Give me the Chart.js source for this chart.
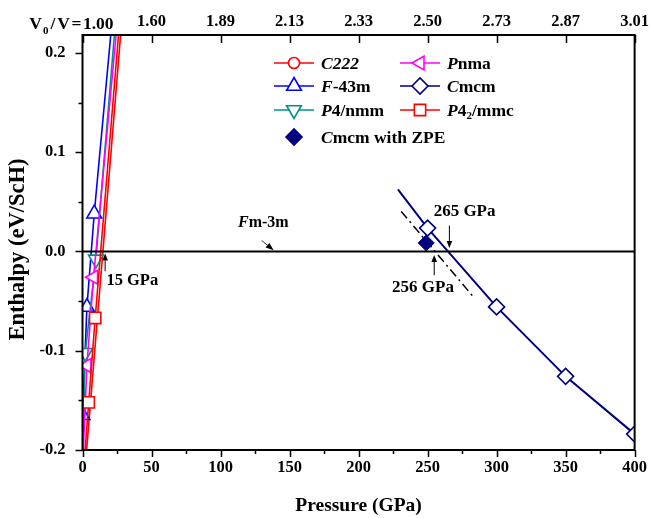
<!DOCTYPE html>
<html>
<head>
<meta charset="utf-8">
<script src="https://cdn.jsdelivr.net/npm/chart.js@4.4.0/dist/chart.umd.min.js"></script>
<style>
  html, body { margin: 0; padding: 0; background: #fff; }
  #wrap { width: 655px; height: 518px; }
</style>
</head>
<body>
<div id="wrap"><canvas id="enthalpyChart" width="655" height="518"></canvas></div>
<script>
// Enthalpy of ScH phases relative to Fm-3m (eV/ScH) vs pressure (GPa)
const c222P = [1.5, 29.5];
const c222H = [-0.225, 0.25];
const f43mP = [0, 3.2, 8.5, 22.6];
const f43mH = [-0.165, -0.056, 0.038, 0.25];
const p4nmmP = [0, 2.0, 9.7, 25];
const p4nmmH = [-0.21, -0.102, -0.008, 0.25];
const pnmaP = [0, 3.2, 8.0, 26.5];
const pnmaH = [-0.22, -0.115, -0.026, 0.25];
const p42mmcP = [0, 4.5, 9.2, 28];
const p42mmcH = [-0.235, -0.152, -0.067, 0.25];
const cmcmP = [228.5, 250, 300, 350, 400];
const cmcmH = [0.0626, 0.0235, -0.0559, -0.1258, -0.184];
const cmcmZpeP = [249];
const cmcmZpeH = [0.0086];
const zpeFitP = [230.9, 284.2];
const zpeFitH = [0.0403, -0.0474];
const fm3mP = [0, 400];
const fm3mH = [0, 0];

// V0/V shown on the top axis at every 50 GPa
const volumeRatios = ['1.00', '1.60', '1.89', '2.13', '2.33', '2.50', '2.73', '2.87', '3.01'];

const FONT = '"Liberation Serif", "Times New Roman", serif';
const BLACK = '#000';

function pts(xs, ys) {
    return xs.map((x, i) => ({ x: x, y: ys[i] }));
}

function series(label, xs, ys, color, shape, rot, extra) {
    return Object.assign({
        label: label,
        data: pts(xs, ys),
        showLine: true,
        borderColor: color,
        borderWidth: 1.6,
        pointStyle: shape,
        pointRotation: rot,
        pointRadius: 8,
        pointBorderWidth: 1.6,
        pointBorderColor: color,
        pointBackgroundColor: '#fff',
        tension: 0
    }, extra || {});
}

// draws a run of text pieces, some italic, some as subscripts
function drawRuns(ctx, x, y, runs, size) {
    let cx = x;
    runs.forEach(r => {
        const fs = r.sub ? Math.round(size * 0.6) : size;
        ctx.font = (r.it ? 'italic ' : '') + 'bold ' + fs + 'px ' + FONT;
        ctx.fillText(r.t, cx, r.sub ? y + size * 0.3 : y);
        cx += ctx.measureText(r.t).width + (r.gap || 0);
    });
    return cx;
}

function runsWidth(ctx, runs, size) {
    let w = 0;
    runs.forEach(r => {
        const fs = r.sub ? Math.round(size * 0.6) : size;
        ctx.font = (r.it ? 'italic ' : '') + 'bold ' + fs + 'px ' + FONT;
        w += ctx.measureText(r.t).width + (r.gap || 0);
    });
    return w;
}

function arrow(ctx, x1, y1, x2, y2, lw, headLen, headW) {
    const ang = Math.atan2(y2 - y1, x2 - x1);
    const bx = x2 - headLen * Math.cos(ang);
    const by = y2 - headLen * Math.sin(ang);
    ctx.lineWidth = lw;
    ctx.beginPath();
    ctx.moveTo(x1, y1);
    ctx.lineTo(bx, by);
    ctx.stroke();
    ctx.beginPath();
    ctx.moveTo(x2, y2);
    ctx.lineTo(bx + headW * Math.sin(ang), by - headW * Math.cos(ang));
    ctx.lineTo(bx - headW * Math.sin(ang), by + headW * Math.cos(ang));
    ctx.closePath();
    ctx.fill();
}

const legendItems = [
    { col: 0, row: 0, color: '#ff0000', shape: 'circle', rot: 0, r: 5.5, runs: [{ t: 'C222', it: true }] },
    { col: 1, row: 0, color: '#ff00ff', shape: 'triangle', rot: -90, r: 8, runs: [{ t: 'P', it: true }, { t: 'nma' }] },
    { col: 0, row: 1, color: '#0000ff', shape: 'triangle', rot: 0, r: 8.5, runs: [{ t: 'F', it: true }, { t: '-43m' }] },
    { col: 1, row: 1, color: '#000080', shape: 'rectRot', rot: 0, r: 8, runs: [{ t: 'C', it: true }, { t: 'mcm' }] },
    { col: 0, row: 2, color: '#00908a', shape: 'triangle', rot: 180, r: 8.5, runs: [{ t: 'P', it: true }, { t: '4/nmm' }] },
    { col: 1, row: 2, color: '#ff0000', shape: 'rect', rot: 0, r: 8, runs: [{ t: 'P', it: true }, { t: '4' }, { t: '2', sub: true }, { t: '/mmc' }] }
];

const decorations = {
    id: 'decorations',
    afterDraw(chart) {
        const { ctx, chartArea: a, scales } = chart;
        const x = scales.x, y = scales.y, x2 = scales.x2;
        ctx.save();
        ctx.strokeStyle = BLACK;
        ctx.fillStyle = BLACK;

        // frame
        ctx.lineWidth = 2;
        ctx.strokeRect(a.left, a.top, a.right - a.left, a.bottom - a.top);

        // tick marks
        ctx.lineWidth = 1.5;
        ctx.beginPath();
        y.ticks.forEach(t => {
            const py = Math.round(y.getPixelForValue(t.value)) + 0.5;
            const major = Math.abs(t.value * 10 - Math.round(t.value * 10)) < 1e-6;
            ctx.moveTo(a.left, py);
            ctx.lineTo(a.left - (major ? 7 : 4), py);
        });
        x.ticks.forEach(t => {
            const px = Math.round(x.getPixelForValue(t.value)) + 0.5;
            ctx.moveTo(px, a.bottom);
            ctx.lineTo(px, a.bottom + (t.value % 50 === 0 ? 7 : 4));
        });
        x2.ticks.forEach(t => {
            const px = Math.round(x2.getPixelForValue(t.value)) + 0.5;
            ctx.moveTo(px, a.top);
            ctx.lineTo(px, a.top + 8);
        });
        ctx.stroke();

        // first top label carries the V0/V prefix
        ctx.textBaseline = 'alphabetic';
        ctx.textAlign = 'left';
        const firstRuns = [{ t: 'V', gap: 1 }, { t: '0', sub: true, gap: 2 }, { t: '/', gap: 2 }, { t: 'V', gap: 1.5 }, { t: '=', gap: 1.5 }, { t: volumeRatios[0] }];
        const w0 = runsWidth(ctx, firstRuns, 17.5);
        drawRuns(ctx, x2.getPixelForValue(0) + 31 - w0, 28.5, firstRuns, 17.5);

        // legend
        ctx.textBaseline = 'middle';
        const colX = [a.left + 211.5, a.left + 337.5];
        const rowY = [a.top + 28, a.top + 51, a.top + 75];
        legendItems.forEach(it => {
            const cx = colX[it.col];
            const cy = rowY[it.row];
            ctx.strokeStyle = it.color;
            ctx.lineWidth = 1.6;
            ctx.beginPath();
            ctx.moveTo(cx - 20, cy);
            ctx.lineTo(cx + 20, cy);
            ctx.stroke();
            ctx.fillStyle = '#fff';
            ctx.lineWidth = 1.6;
            Chart.helpers.drawPoint(ctx, { pointStyle: it.shape, rotation: it.rot, radius: it.r, borderWidth: 1.6 }, cx, cy);
            ctx.fillStyle = BLACK;
            drawRuns(ctx, cx + 27, cy + 1, it.runs, 17.5);
        });
        const zpeY = a.top + 102;
        ctx.fillStyle = '#000080';
        ctx.strokeStyle = '#000080';
        Chart.helpers.drawPoint(ctx, { pointStyle: 'rectRot', rotation: 0, radius: 8, borderWidth: 1 }, colX[0], zpeY);
        ctx.fillStyle = BLACK;
        drawRuns(ctx, colX[0] + 27, zpeY + 1, [{ t: 'C', it: true }, { t: 'mcm with ZPE' }], 17.5);

        // annotations
        ctx.strokeStyle = BLACK;
        ctx.fillStyle = BLACK;
        const X = v => x.getPixelForValue(v);
        const Y = v => y.getPixelForValue(v);

        arrow(ctx, X(16.4), Y(-0.020), X(16.4), Y(-0.002), 1, 7, 2.8);
        drawRuns(ctx, X(17.3), Y(-0.030), [{ t: '15 GPa' }], 16.5);

        arrow(ctx, X(129.8), Y(0.011), X(138.5), Y(0.0012), 0.8, 8, 3);
        const fmRuns = [{ t: 'F', it: true }, { t: 'm-3m' }];
        drawRuns(ctx, X(131) - runsWidth(ctx, fmRuns, 16) / 2, Y(0.029), fmRuns, 16);

        arrow(ctx, X(265.8), Y(0.026), X(265.8), Y(0.0035), 1, 7, 2.8);
        drawRuns(ctx, X(254.4), Y(0.040), [{ t: '265 GPa' }], 17);

        arrow(ctx, X(254.8), Y(-0.024), X(254.8), Y(-0.0035), 1, 7, 2.8);
        const r256 = [{ t: '256 GPa' }];
        drawRuns(ctx, X(246.7) - runsWidth(ctx, r256, 17) / 2, Y(-0.036), r256, 17);

        // y-axis title, centred a little below the middle of the plot
        ctx.save();
        ctx.translate(18, (a.top + a.bottom) / 2 + 7);
        ctx.rotate(-Math.PI / 2);
        ctx.textAlign = 'center';
        ctx.font = 'bold 22.5px ' + FONT;
        ctx.fillText('Enthalpy (eV/ScH)', 0, 0);
        ctx.restore();

        ctx.restore();
    }
};

const tickFont = { family: FONT, size: 16.5, weight: 'bold' };

new Chart(document.getElementById('enthalpyChart'), {
    type: 'scatter',
    data: {
        datasets: [
            series('Fm-3m', fm3mP, fm3mH, BLACK, 'circle', 0, { borderWidth: 2, pointRadius: 0 }),
            series('Cmcm with ZPE', cmcmZpeP, cmcmZpeH, '#000080', 'rectRot', 0, { showLine: false, pointBackgroundColor: '#000080', pointBorderWidth: 1 }),
            series('ZPE fit', zpeFitP, zpeFitH, BLACK, 'circle', 0, { pointRadius: 0, borderWidth: 1.5, borderDash: [9, 4, 2, 4] }),
            series('Cmcm', cmcmP, cmcmH, '#000080', 'rectRot', 0, { borderWidth: 2, pointRadius: [0, 8, 8, 8, 8] }),
            series('P42/mmc', p42mmcP, p42mmcH, '#ff0000', 'rect', 0),
            series('Pnma', pnmaP, pnmaH, '#ff00ff', 'triangle', -90, { pointRadius: 8 }),
            series('P4/nmm', p4nmmP, p4nmmH, '#00908a', 'triangle', 180, { pointRadius: 8.5 }),
            series('F-43m', f43mP, f43mH, '#0000ff', 'triangle', 0, { pointRadius: 8.5 }),
            series('C222', c222P, c222H, '#ff0000', 'circle', 0, { pointRadius: 5.5 })
        ]
    },
    options: {
        responsive: false,
        animation: false,
        devicePixelRatio: 1,
        layout: { padding: { left: 0, right: 15.5, top: 0, bottom: 0 } },
        plugins: { legend: { display: false }, tooltip: { enabled: false } },
        scales: {
            x: {
                type: 'linear',
                position: 'bottom',
                min: 0,
                max: 400,
                grid: { display: false, drawTicks: false },
                border: { display: false },
                ticks: {
                    stepSize: 25,
                    autoSkip: false,
                    maxRotation: 0,
                    padding: 8,
                    color: BLACK,
                    font: tickFont,
                    callback: v => (v % 50 === 0 ? String(v) : '')
                },
                title: { display: true, text: 'Pressure (GPa)', color: BLACK, font: { family: FONT, size: 19.5, weight: 'bold' }, padding: { top: 0, bottom: 0 } },
                afterFit: s => { s.height = 68; }
            },
            x2: {
                type: 'linear',
                position: 'top',
                min: 0,
                max: 400,
                grid: { display: false, drawTicks: false },
                border: { display: false },
                ticks: {
                    stepSize: 50,
                    autoSkip: false,
                    maxRotation: 0,
                    padding: 3,
                    color: BLACK,
                    font: tickFont,
                    callback: (v, i) => (i === 0 ? '' : volumeRatios[i])
                },
                afterFit: s => { s.height = 35; }
            },
            y: {
                type: 'linear',
                min: -0.2,
                max: 0.218,
                grid: { display: false, drawTicks: false },
                border: { display: false },
                ticks: {
                    stepSize: 0.05,
                    includeBounds: false,
                    padding: 17,
                    color: BLACK,
                    font: tickFont,
                    callback: v => {
                        if (Math.abs(v * 10 - Math.round(v * 10)) > 1e-6) return '';
                        return Math.abs(v) < 1e-9 ? '0.0' : v.toFixed(1);
                    }
                },
                afterFit: s => { s.width = 82.5; }
            }
        }
    },
    plugins: [decorations]
});
</script>
</body>
</html>
